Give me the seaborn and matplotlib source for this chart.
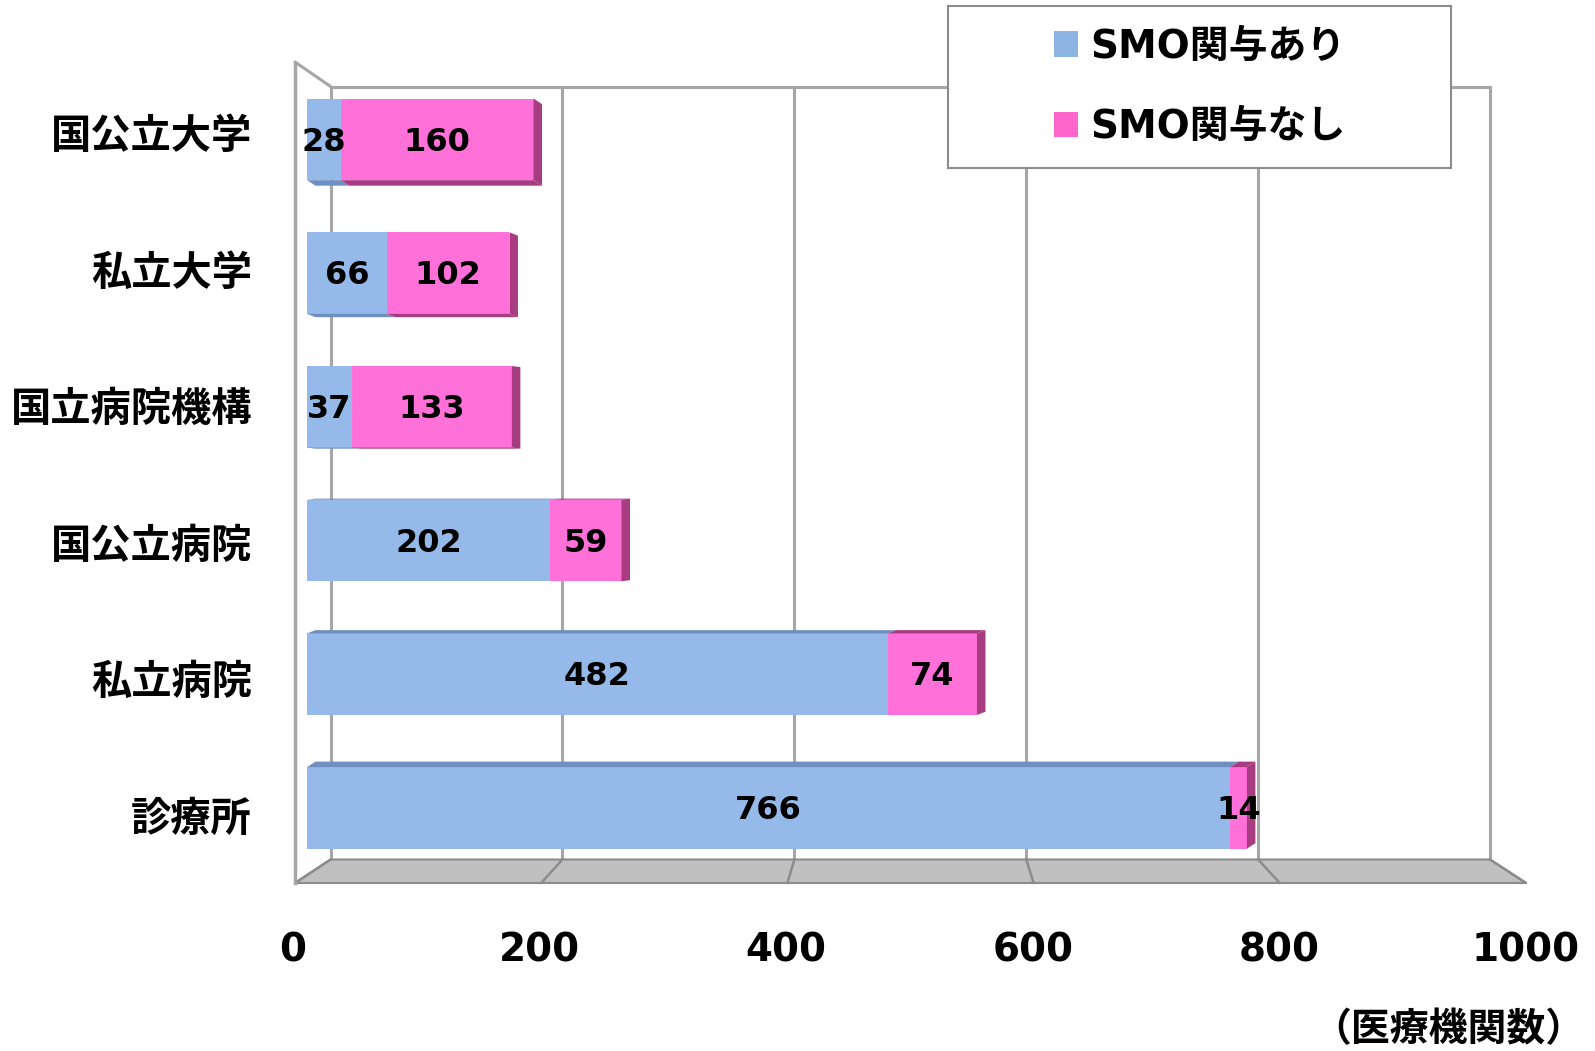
import numpy as np
import pandas as pd
import matplotlib
matplotlib.use('Agg')
import matplotlib.pyplot as plt
import seaborn as sns
from matplotlib.patches import Polygon, Patch

# ---- data ----
categories = ['国公立大学', '私立大学', '国立病院機構', '国公立病院', '私立病院', '診療所']
smo_yes = [28, 66, 37, 202, 482, 766]
smo_no = [160, 102, 133, 59, 74, 14]
series_labels = ['SMO関与あり', 'SMO関与なし']
x_ticks = [0, 200, 400, 600, 800, 1000]
unit_label = '（医療機関数）'

BLUE = '#95B9E8'
PINK = '#FF70D8'
BLUE_DARK = '#6F8FC0'
PINK_DARK = '#A83C80'
GRAY = '#A6A6A6'

sns.set_theme(style='white')
plt.rcParams['font.family'] = ['DejaVu Sans', 'Noto Sans CJK JP']
plt.rcParams['font.weight'] = 'bold'
plt.rcParams['text.color'] = 'black'
plt.rcParams['xtick.color'] = 'black'
plt.rcParams['ytick.color'] = 'black'
plt.rcParams['xtick.labelcolor'] = 'black'
plt.rcParams['ytick.labelcolor'] = 'black'

W, H = 1595, 1051
fig = plt.figure(figsize=(W / 100, H / 100), dpi=100)
fig.patch.set_facecolor('white')


def rect(l, t, r, b):
    return [l / W, 1 - b / H, (r - l) / W, (b - t) / H]


# ---- back wall with gridlines ----
WL, WR, WT, WB = 330.6, 1490, 86.5, 859.5
wall = fig.add_axes(rect(WL, WT, WR, WB), zorder=0)
wall.set_xlim(0, 1000)
wall.set_ylim(0, 1)
wall.set_xticks(x_ticks[1:-1])
wall.set_yticks([])
wall.tick_params(axis='x', length=0, labelbottom=False)
wall.grid(axis='x', color=GRAY, linewidth=2.2)
for s in ['left', 'top', 'right']:
    wall.spines[s].set_color(GRAY)
    wall.spines[s].set_linewidth(2.2)
wall.spines['bottom'].set_visible(False)
wall.set_facecolor('white')

# ---- floor (decoration in pixel space) ----
FL, FR, FY = 295, 1526, 883
deco = fig.add_axes([0, 0, 1, 1], zorder=1)
deco.set_xlim(0, W)
deco.set_ylim(H, 0)
deco.axis('off')
deco.patch.set_alpha(0)
deco.add_patch(Polygon([(FL, FY), (WL, WB), (WR, WB), (FR, FY)], closed=True,
                       facecolor='#C0C0C0', edgecolor='#8C8C8C', linewidth=1.5))
for v in x_ticks:
    bx = WL + v * (WR - WL) / 1000
    fx = FL + v * (FR - FL) / 1000
    deco.plot([bx, fx], [WB, FY], color='#8C8C8C', linewidth=1.8)
deco.plot([FL, WL], [62, WT], color=GRAY, linewidth=2.2)

# ---- side wall axis: ticks and category labels ----
side = fig.add_axes(rect(FL, 64, FL + 1, FY), zorder=1)
side.set_ylim(6, 0)
side.set_xlim(0, 1)
side.set_yticks(range(6))
side.set_yticks([i + 0.5 for i in range(len(categories))], minor=True)
side.set_yticklabels(categories, minor=True, fontsize=29, fontweight='bold',
                     family=['Noto Sans CJK JP', 'DejaVu Sans'])
side.set_xticks([])
side.tick_params(axis='y', which='major', direction='in', length=12, width=2,
                 color=GRAY, labelleft=False)
side.tick_params(axis='y', which='minor', length=0, pad=31, labelcolor='black')
for s in ['right', 'top', 'bottom']:
    side.spines[s].set_visible(False)
side.spines['left'].set_color(GRAY)
side.spines['left'].set_linewidth(2.5)
side.patch.set_alpha(0)

# ---- bars ----
BX0, BPX = 307, 1.205
CY0, CSP = 139.4, 133.7
bax = fig.add_axes(rect(BX0, CY0 - 0.5 * CSP, BX0 + 1000 * BPX, CY0 + 5.5 * CSP), zorder=2)
bax.patch.set_alpha(0)

df = pd.DataFrame({'category': categories, 'yes': smo_yes, 'no': smo_no})
df['total'] = df['yes'] + df['no']

sns.barplot(data=df, y='category', x='total', color=PINK, saturation=1,
            width=0.61, ax=bax, linewidth=0)
sns.barplot(data=df, y='category', x='yes', color=BLUE, saturation=1,
            width=0.61, ax=bax, linewidth=0)
bax.set_xlim(0, 1000)
bax.set_ylim(5.5, -0.5)

# pseudo-3D faces derived from the drawn bars
dxd = 8.5 / BPX
pink_patches = bax.patches[:6]
for i, p in enumerate(pink_patches):
    y0 = p.get_y()
    y1 = y0 + p.get_height()
    x1 = p.get_width()
    yes = smo_yes[i]
    dyd = (2.5 - i) * 2.2 / CSP
    bax.add_patch(Polygon([(x1, y0), (x1 + dxd, y0 + dyd), (x1 + dxd, y1 + dyd), (x1, y1)],
                          closed=True, facecolor=PINK_DARK, edgecolor='none', zorder=1))
    ye = y1 if dyd > 0 else y0
    bax.add_patch(Polygon([(0, ye), (yes, ye), (yes + dxd, ye + dyd), (dxd, ye + dyd)],
                          closed=True, facecolor=BLUE_DARK, edgecolor='none', zorder=1))
    bax.add_patch(Polygon([(yes, ye), (x1, ye), (x1 + dxd, ye + dyd), (yes + dxd, ye + dyd)],
                          closed=True, facecolor=PINK_DARK, edgecolor='none', zorder=1))

for i in range(len(categories)):
    bax.text(smo_yes[i] / 2, i + 0.02, str(smo_yes[i]), ha='center', va='center',
             fontsize=23, fontweight='bold', color='black', zorder=5)
    bax.text(smo_yes[i] + smo_no[i] / 2, i + 0.02, str(smo_no[i]), ha='center', va='center',
             fontsize=23, fontweight='bold', color='black', zorder=5)

bax.set_xlabel('')
bax.set_ylabel('')
bax.set_xticks([])
bax.set_yticks([])
for s in bax.spines.values():
    s.set_visible(False)

# ---- front x tick labels ----
tax = fig.add_axes(rect(FL - 2, FY - 2, FR, FY), zorder=1)
tax.set_xlim(0, 1000)
tax.set_xticks(x_ticks)
tax.set_xticklabels([str(v) for v in x_ticks], fontsize=28, fontweight='bold', color='black')
tax.set_yticks([])
tax.tick_params(axis='x', length=0, pad=35)
for s in tax.spines.values():
    s.set_visible(False)
tax.patch.set_alpha(0)

# ---- legend ----
lax = fig.add_axes(rect(948, 6, 1451, 168), zorder=3)
lax.set_xticks([])
lax.set_yticks([])
lax.set_facecolor('white')
for s in lax.spines.values():
    s.set_color('#8C8C8C')
    s.set_linewidth(1.5)
handles = [Patch(facecolor='#8DB3E2', edgecolor='none'),
           Patch(facecolor='#FF66CC', edgecolor='none')]
leg = lax.legend(handles, series_labels, loc='center', frameon=False,
                 prop={'size': 28, 'weight': 'bold', 'family': ['DejaVu Sans', 'Noto Sans CJK JP']},
                 handlelength=0.62, handleheight=0.62, handletextpad=0.3, labelspacing=1.1,
                 labelcolor='black')

fig.text(1584 / W, 1 - 1030 / H, unit_label, ha='right', va='center',
         fontsize=28, fontweight='bold', family=['Noto Sans CJK JP', 'DejaVu Sans'],
         color='black')

fig.savefig('out.png', dpi=100)
